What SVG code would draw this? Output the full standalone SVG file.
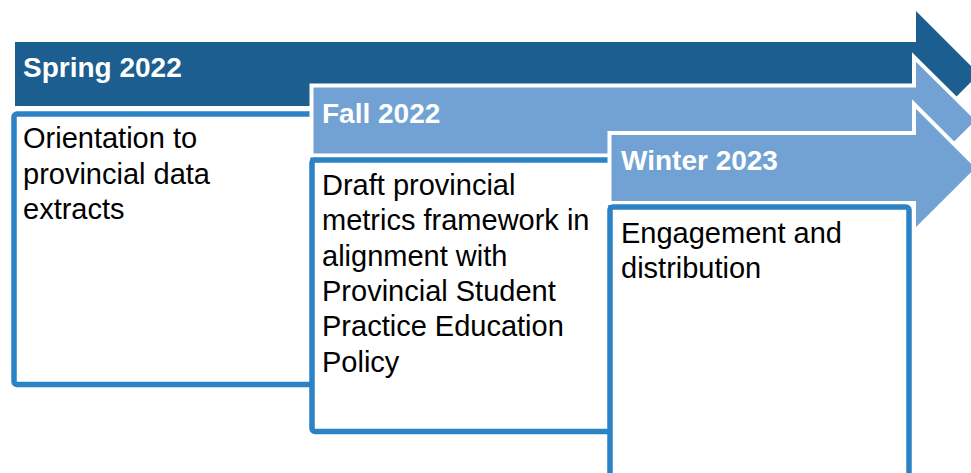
<svg xmlns="http://www.w3.org/2000/svg" width="971" height="473" viewBox="0 0 971 473">
  <style>
    .arrow-dark { fill: #1B5E8F; }
    .arrow-light { fill: #72A2D4; stroke: #FFFFFF; stroke-width: 4; stroke-linejoin: miter; }
    .box { fill: #FFFFFF; stroke: #2B83C6; stroke-width: 5.5; }
    .head { font-family: "Liberation Sans", Arial, sans-serif; font-weight: bold; font-size: 28px; fill: #FFFFFF; }
    .body { font-family: "Liberation Sans", Arial, sans-serif; font-size: 29px; fill: #000000; }
  </style>
  <rect width="971" height="473" fill="#FFFFFF"/>

  <!-- Stage 1: Spring 2022 -->
  <g id="stage-spring-2022">
    <path class="arrow-dark" d="M15,42 H916 V11 L979,74 L916,137 V106 H15 Z"/>
    <text class="head" x="23" y="77">Spring 2022</text>
    <rect class="box" x="14" y="114" width="299" height="270.5" rx="3"/>
    <text class="body" x="23" y="148">Orientation to</text>
    <text class="body" x="23" y="183.5">provincial data</text>
    <text class="body" x="23" y="219">extracts</text>
  </g>

  <!-- Stage 2: Fall 2022 -->
  <g id="stage-fall-2022">
    <path class="arrow-light" d="M311.5,85.5 H914 V57 L978,120.5 L914,184 V155.5 H311.5 Z"/>
    <text class="head" x="322" y="123">Fall 2022</text>
    <rect class="box" x="312" y="160" width="299" height="271.5" rx="3"/>
    <text class="body" x="322" y="195">Draft provincial</text>
    <text class="body" x="322" y="230.3">metrics framework in</text>
    <text class="body" x="322" y="265.6">alignment with</text>
    <text class="body" x="322" y="300.9">Provincial Student</text>
    <text class="body" x="322" y="336.2">Practice Education</text>
    <text class="body" x="322" y="371.5">Policy</text>
  </g>

  <!-- Stage 3: Winter 2023 -->
  <g id="stage-winter-2023">
    <path class="arrow-light" d="M609.5,133 H914 V104 L978,168 L914,232 V203 H609.5 Z"/>
    <text class="head" x="621" y="170">Winter 2023</text>
    <rect class="box" x="610" y="207" width="299" height="280" rx="3"/>
    <text class="body" x="621" y="243">Engagement and</text>
    <text class="body" x="621" y="278">distribution</text>
  </g>

  <!-- no connectors: the stages are linked by the overlapping arrows themselves -->
  <g id="connectors"/>
</svg>
